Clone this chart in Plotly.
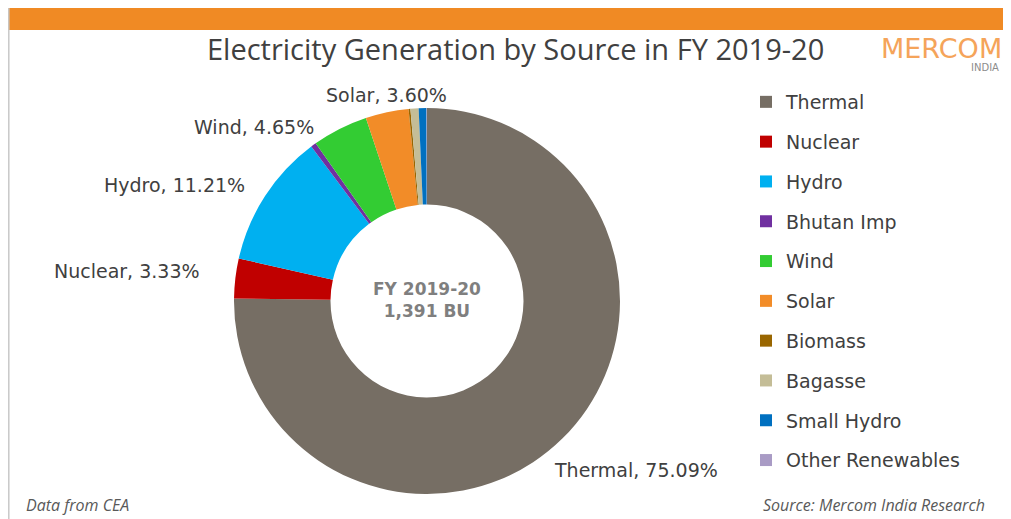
import plotly.graph_objects as go

# ---------------- data ----------------
categories = ["Thermal", "Nuclear", "Hydro", "Bhutan Imp", "Wind", "Solar",
              "Biomass", "Bagasse", "Small Hydro", "Other Renewables"]
shares = [75.09, 3.33, 11.21, 0.45, 4.65, 3.60, 0.15, 0.68, 0.65, 0.04]
colors = ["#766E64", "#C00000", "#00B0F0", "#7030A0", "#33CC33", "#F28C28",
          "#996600", "#C4BD97", "#0070C0", "#A99BC5"]
labeled = ["Thermal", "Nuclear", "Hydro", "Wind", "Solar"]
center_lines = ["FY 2019-20", "1,391 BU"]
title_text = "Electricity Generation by Source in FY 2019-20"
footer_left = "Data from CEA"
footer_right = "Source: Mercom India Research"

# the page body has an 8px margin, so the figure starts at (8, 8) in the window
OFF = 8
W, H = 1011 - OFF, 519 - OFF


def px(x):
    return (x - OFF) / W


def py(y):
    return 1 - (y - OFF) / H


# ---------------- layout helpers (window pixel positions) ----------------
cx, cy, r = 427, 301, 193
label_pos = {
    "Thermal": (636, 470),
    "Nuclear": (127, 271),
    "Hydro": (174, 185),
    "Wind": (254, 127),
    "Solar": (386, 95),
}

fig = go.Figure()

fig.add_trace(go.Pie(
    labels=categories,
    values=shares,
    marker=dict(colors=colors, line=dict(width=0)),
    hole=0.5,
    sort=False,
    direction="clockwise",
    rotation=0,
    textinfo="none",
    showlegend=False,
    domain=dict(x=[px(cx - r), px(cx + r)], y=[py(cy + r), py(cy - r)]),
))

# legend entries (one per category, own group so spacing can be set)
for name, col in zip(categories, colors):
    fig.add_trace(go.Scatter(
        x=[None], y=[None], mode="markers", name=name,
        legendgroup=name,
        marker=dict(symbol="square", size=12, color=col),
    ))

ann = []
for name, val in zip(categories, shares):
    if name in label_pos:
        x, y = label_pos[name]
        ann.append(dict(x=px(x), y=py(y), xref="paper", yref="paper",
                        text=f"{name}, {val:.2f}%", showarrow=False,
                        xanchor="center", yanchor="middle",
                        font=dict(family="DejaVu Sans", size=19, color="#404040")))

ann.append(dict(x=px(cx), y=py(300), xref="paper", yref="paper",
                text="<br>".join(center_lines), showarrow=False,
                xanchor="center", yanchor="middle",
                font=dict(family="DejaVu Sans", size=17, color="#7F7F7F", weight="bold")))

ann.append(dict(x=px(515), y=py(49), xref="paper", yref="paper",
                text=title_text, showarrow=False, xanchor="center", yanchor="middle",
                font=dict(family="Open Sans", size=29, color="#404040")))

ann.append(dict(x=px(879), y=py(48), xref="paper", yref="paper",
                text="MERCOM", showarrow=False, xanchor="left", yanchor="middle",
                font=dict(family="DejaVu Sans ExtraLight, DejaVu Sans", size=27,
                          color="#F5A45A")))
ann.append(dict(x=px(969), y=py(67), xref="paper", yref="paper",
                text="INDIA", showarrow=False, xanchor="left", yanchor="middle",
                font=dict(family="DejaVu Sans", size=10, color="#8C8C8C")))

ann.append(dict(x=px(24), y=py(505), xref="paper", yref="paper",
                text=footer_left, showarrow=False, xanchor="left", yanchor="middle",
                font=dict(family="Open Sans", size=16, color="#595959", style="italic")))
ann.append(dict(x=px(987), y=py(505), xref="paper", yref="paper",
                text=footer_right, showarrow=False, xanchor="right", yanchor="middle",
                font=dict(family="Open Sans", size=16, color="#595959", style="italic")))

shapes = [
    dict(type="rect", xref="paper", yref="paper", x0=0, x1=1,
         y0=py(30), y1=1, fillcolor="#F08A24", line=dict(width=0), layer="below"),
    dict(type="line", xref="paper", yref="paper", x0=0.0008, x1=0.0008,
         y0=0, y1=1, line=dict(color="#C8C8C8", width=1.5)),
]

fig.update_layout(
    width=W, height=H,
    margin=dict(l=0, r=0, t=0, b=0),
    paper_bgcolor="white", plot_bgcolor="white",
    xaxis=dict(visible=False), yaxis=dict(visible=False),
    annotations=ann, shapes=shapes,
    showlegend=True,
    legend=dict(x=px(746), y=py(83), xanchor="left", yanchor="top",
                tracegroupgap=12.1, bgcolor="rgba(0,0,0,0)",
                font=dict(family="DejaVu Sans", size=19, color="#404040")),
)

fig.write_html("out.html")
